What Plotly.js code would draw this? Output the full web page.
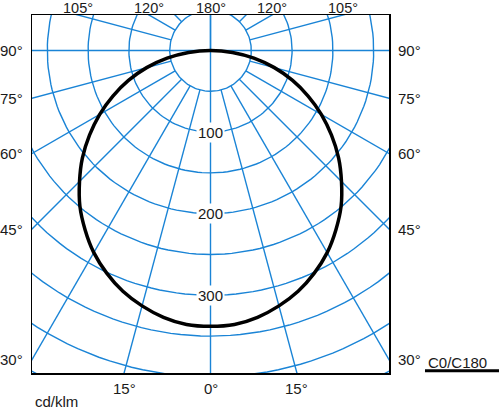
<!DOCTYPE html>
<html><head><meta charset="utf-8">
<script src="https://cdn.plot.ly/plotly-3.0.1.min.js"></script>
<style>html,body{margin:0;padding:0;background:#fff}</style>
</head><body><div id="chart" style="width:500px;height:409px"></div>
<script>
// Luminous intensity (cd/klm) of the C0/C180 plane, gamma measured from nadir
const curveAngles = [0,5,10,15,20,25,30,35,40,45,50,55,60,65,70,75,80,85,90];
const curveValues = [338,337,332,324,314,301,286,268,249,227,205,181,157,132,107,81,54,27,0];
// polar grid
const ringValues = [50,100,150,200,250,300,350,400,450,500];
const ringLabels = [100,200,300];
const spokeAngles = [-180,-165,-150,-135,-120,-105,-90,-75,-60,-45,-30,-15,0,15,30,45,60,75,90,105,120,135,150,165,180];
const sideTickAngles = [30,45,60,75,90];
const topTickAngles = [105,120];
const bottomTickAngles = [-15,0,15];
const legendName = 'C0/C180';
const unitLabel = 'cd/klm';

const xRange = [-218.75, 218.75];
const yRange = [-395.2, 43.5];
const BLUE = '#1a84d6';
const FONT = {family: 'Liberation Sans, Arial, sans-serif', size: 15, color: '#1a1a1a'};
const TOPFONT = {family: 'Liberation Sans, Arial, sans-serif', size: 14.5, color: '#1a1a1a'};
const rad = d => d * Math.PI / 180;
const px = (r, a) => r * Math.sin(rad(a));
const py = (r, a) => -r * Math.cos(rad(a));

// rings
const rx = [], ry = [];
ringValues.forEach(r => {
  for (let a = 0; a <= 360; a += 2) { rx.push(px(r, a)); ry.push(py(r, a)); }
  rx.push(null); ry.push(null);
});
// spokes
const sx = [], sy = [];
spokeAngles.forEach(a => {
  const r0 = (a % 90 === 0) ? 0 : ringValues[0];
  sx.push(px(r0, a), px(700, a), null);
  sy.push(py(r0, a), py(700, a), null);
});
// curve (both halves)
const cx = [], cy = [];
for (let i = curveAngles.length - 1; i >= 0; i--) { cx.push(px(curveValues[i], -curveAngles[i])); cy.push(py(curveValues[i], -curveAngles[i])); }
for (let i = 1; i < curveAngles.length; i++) { cx.push(px(curveValues[i], curveAngles[i])); cy.push(py(curveValues[i], curveAngles[i])); }

const traces = [
  {x: rx, y: ry, mode: 'lines', line: {color: BLUE, width: 1.4}, hoverinfo: 'skip'},
  {x: sx, y: sy, mode: 'lines', line: {color: BLUE, width: 1.4}, hoverinfo: 'skip'},
  {x: cx, y: cy, mode: 'lines', name: legendName, line: {color: '#000', width: 3.5, shape: 'spline', smoothing: 1}, hoverinfo: 'skip'}
];

const ann = [];
ringLabels.forEach(v => ann.push({x: 0, y: -v, text: String(v), showarrow: false, bgcolor: '#fff', borderpad: 1, font: FONT}));
sideTickAngles.forEach(a => {
  const y = a === 90 ? 0 : -xRange[1] / Math.tan(rad(a));
  ann.push({x: xRange[0], y: y, text: a + '°', showarrow: false, xanchor: 'right', xshift: -7, font: FONT});
  ann.push({x: xRange[1], y: y, text: a + '°', showarrow: false, xanchor: 'left', xshift: 7, font: FONT});
});
topTickAngles.forEach(a => {
  const x = yRange[1] / Math.tan(rad(a - 90));
  [-1, 1].forEach(s => ann.push({x: s * x, y: yRange[1], text: a + '°', showarrow: false, yanchor: 'middle', yshift: 7, font: TOPFONT}));
});
ann.push({x: 0, y: yRange[1], text: '180°', showarrow: false, yanchor: 'middle', yshift: 7, font: TOPFONT});
bottomTickAngles.forEach(a => {
  const x = -yRange[0] * Math.tan(rad(a));
  ann.push({x: x, y: yRange[0], text: Math.abs(a) + '°', showarrow: false, yanchor: 'middle', yshift: -15, font: FONT});
});
ann.push({xref: 'paper', yref: 'paper', x: 0, y: 0, text: unitLabel, showarrow: false, xanchor: 'left', yanchor: 'middle', xshift: 1, yshift: -28, font: FONT});
ann.push({xref: 'paper', yref: 'paper', x: 1, y: 0, text: legendName, showarrow: false, xanchor: 'left', yanchor: 'middle', xshift: 37, yshift: 11, font: FONT});

const layout = {
  width: 500, height: 409,
  margin: {l: 32, r: 111, t: 15, b: 36, pad: 0},
  paper_bgcolor: '#fff', plot_bgcolor: '#fff',
  showlegend: false, hovermode: false,
  xaxis: {range: xRange, showgrid: false, zeroline: false, showticklabels: false, ticks: '', showline: true, mirror: true, linecolor: '#000', linewidth: 1.5, fixedrange: true},
  yaxis: {range: yRange, showgrid: false, zeroline: false, showticklabels: false, ticks: '', showline: true, mirror: true, linecolor: '#000', linewidth: 1.5, fixedrange: true},
  annotations: ann,
  shapes: [{type: 'line', xref: 'paper', yref: 'paper', x0: 1.1008, x1: 1.3081, y0: 0.0064, y1: 0.0064, line: {color: '#000', width: 3}}]
};
Plotly.newPlot('chart', traces, layout, {displayModeBar: false, staticPlot: true});
</script></body></html>
